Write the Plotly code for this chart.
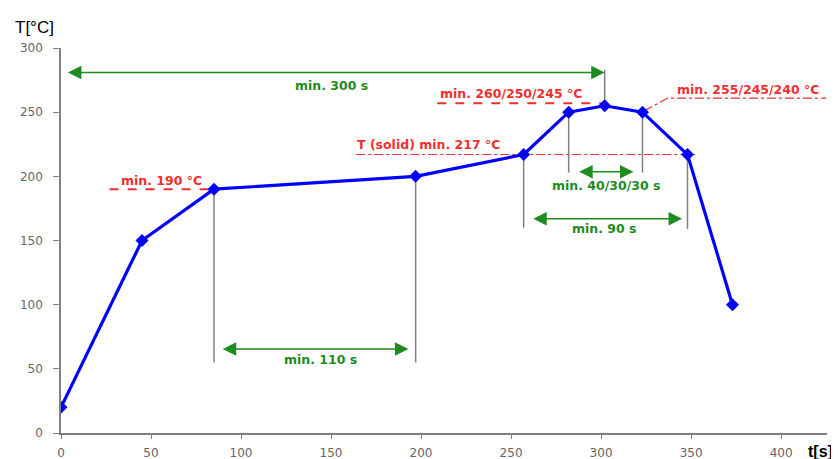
import plotly.graph_objects as go

# Reflow profile points
time_s = [0, 45, 85, 197, 257, 282, 302, 323, 348, 373]
temp_c = [20, 150, 190, 200, 217, 250, 255, 250, 217, 100]

# Axis ticks
x_ticks = [0, 50, 100, 150, 200, 250, 300, 350, 400]
y_ticks = [0, 50, 100, 150, 200, 250, 300]

# Gray drop lines: time, from temp, to temp
drop_t = [85, 197, 257, 282, 302, 323, 348]
drop_from = [190, 200, 217, 250, 255, 250, 217]
drop_to = [55, 55, 160, 203, 283, 203, 159]

# Green double arrows: start time, end time, level, label, label time, label temp
arrow_t0 = [3, 89, 287, 261.5]
arrow_t1 = [302, 193, 318, 345]
arrow_T = [281, 65.5, 203.5, 167]
arrow_labels = ["min. 300 s", "min. 110 s", "min. 40/30/30 s", "min. 90 s"]
arrow_label_t = [150, 144, 303, 302]
arrow_label_T = [271, 57, 192.5, 159]

# Red limit lines
red_lines_t = [[27, 85], [164, 353], [209, 301], [324, 337, 425]]
red_lines_T = [[190, 190], [217, 217], [257, 257], [251, 261, 261]]
red_labels = ["min. 190 °C", "T (solid) min. 217 °C", "min. 260/250/245 °C", "min. 255/245/240 °C"]
red_label_t = [56, 204, 250, 382]
red_label_T = [197, 225, 264.5, 268]
red_dash = ["dash", "dashdot", "dash", "dashdot"]
red_width = [2, 1.2, 2, 1.2]

GREEN = "#1e8c1e"
RED = "#f03030"
GRAY = "#808080"
FONT = "DejaVu Sans"

fig = go.Figure()

# drop lines
for t, a, b in zip(drop_t, drop_from, drop_to):
    fig.add_trace(go.Scatter(x=[t, t], y=[a, b], mode="lines",
                             line=dict(color=GRAY, width=1.5),
                             hoverinfo="skip", showlegend=False))

# red limit lines
for xs, ys, d, w in zip(red_lines_t, red_lines_T, red_dash, red_width):
    fig.add_trace(go.Scatter(x=xs, y=ys, mode="lines",
                             line=dict(color=RED, width=w, dash=d),
                             hoverinfo="skip", showlegend=False))

# profile
fig.add_trace(go.Scatter(x=time_s, y=temp_c, mode="lines+markers",
                         line=dict(color="#0000ff", width=3.2),
                         marker=dict(symbol="diamond", size=10, color="#0000ff"),
                         showlegend=False))

# green arrows
for t0, t1, T in zip(arrow_t0, arrow_t1, arrow_T):
    fig.add_annotation(x=t1, y=T, ax=t0, ay=T, xref="x", yref="y", axref="x", ayref="y",
                       text="", showarrow=True, arrowhead=2, arrowside="end+start",
                       arrowsize=1.8, arrowwidth=1.5, arrowcolor=GREEN, standoff=0, startstandoff=0)
for lab, lt, lT in zip(arrow_labels, arrow_label_t, arrow_label_T):
    fig.add_annotation(x=lt, y=lT, xref="x", yref="y", text=f"<b>{lab}</b>", showarrow=False,
                       font=dict(family=FONT, size=12.5, color=GREEN))

for lab, lt, lT in zip(red_labels, red_label_t, red_label_T):
    fig.add_annotation(x=lt, y=lT, xref="x", yref="y", text=f"<b>{lab}</b>", showarrow=False,
                       font=dict(family=FONT, size=12.5, color=RED))

# axis titles
fig.add_annotation(x=-0.0627, y=1.0545, xref="paper", yref="paper", text="T[°C]",
                   showarrow=False, xanchor="left", yanchor="middle",
                   font=dict(family="Liberation Sans", size=17, color="black"))
fig.add_annotation(x=0.972, y=-0.049, xref="paper", yref="paper", text="<b>t[s]</b>",
                   showarrow=False, xanchor="left", yanchor="middle",
                   font=dict(family="Liberation Sans", size=16, color="black"))

fig.update_layout(
    width=831, height=451, autosize=False,
    margin=dict(l=53, r=12, t=40, b=26),
    plot_bgcolor="white", paper_bgcolor="white",
    xaxis=dict(range=[0, 425.5], showgrid=False, zeroline=False, showline=True, automargin=False,
               linecolor=GRAY, linewidth=1.5, ticks="outside", ticklen=4, tickcolor=GRAY,
               ticklabelstandoff=4,
               tickvals=x_ticks, tickfont=dict(family=FONT, size=12, color="#666666")),
    yaxis=dict(range=[0, 300], showgrid=False, zeroline=False, showline=True, automargin=False,
               linecolor=GRAY, linewidth=1.5, ticks="outside", ticklen=6, tickcolor=GRAY,
               ticklabelstandoff=8,
               tickvals=y_ticks, tickfont=dict(family=FONT, size=12, color="#666666")),
)

fig.write_html("out.html")
